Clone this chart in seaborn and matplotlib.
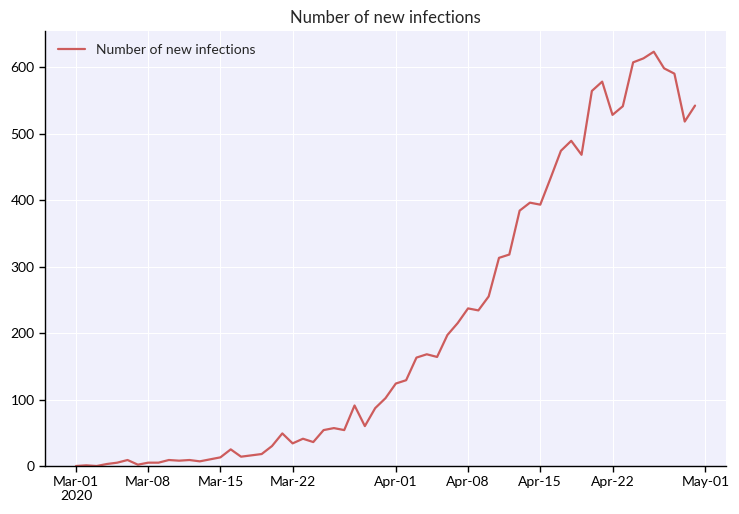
import matplotlib
matplotlib.use("Agg")
import matplotlib.pyplot as plt
import matplotlib.dates as mdates
import seaborn as sns
import pandas as pd
import numpy as np

start_date = "2020-03-01"
new_infections = [0, 1, 0, 3, 5, 9, 2, 5, 5, 9,
                  8, 9, 7, 10, 13, 25, 14, 16, 18, 30,
                  49, 34, 41, 36, 54, 57, 54, 91, 60, 87,
                  102, 124, 129, 163, 168, 164, 197, 215, 237, 234,
                  255, 313, 318, 384, 396, 393, 433, 474, 489, 468,
                  564, 578, 528, 541, 607, 613, 623, 598, 590, 518,
                  542]
tick_dates = ["2020-03-01", "2020-03-08", "2020-03-15", "2020-03-22",
              "2020-04-01", "2020-04-08", "2020-04-15", "2020-04-22", "2020-05-01"]
tick_labels = ["Mar-01\n2020", "Mar-08", "Mar-15", "Mar-22",
               "Apr-01", "Apr-08", "Apr-15", "Apr-22", "May-01"]
series_name = "Number of new infections"

df = pd.DataFrame({
    "date": pd.date_range(start_date, periods=len(new_infections), freq="D"),
    "value": new_infections,
})

sns.set_style("darkgrid", {"axes.facecolor": "#F0F0FC", "grid.color": "white"})
plt.rcParams["font.family"] = ["Lato", "DejaVu Sans"]

fig = plt.figure(figsize=(7.39, 5.14), dpi=100)
ax = fig.add_axes([45/739, 1-466/514, (726-45)/739, (466-31)/514])
sns.lineplot(data=df, x="date", y="value", ax=ax, color="#CD5C5C",
             linewidth=1.6, label=series_name)

ax.set_ylim(0, None)
ax.set_xticks(pd.to_datetime(tick_dates))
ax.set_xticklabels(tick_labels, fontsize=10)
ax.set_yticks([0, 100, 200, 300, 400, 500, 600])
ax.tick_params(axis="y", labelsize=10)
ax.tick_params(axis="both", which="major", length=4, width=1, color="black",
               bottom=True, left=True, labelcolor="black")
ax.set_xlabel("")
ax.set_ylabel("")
ax.set_title(series_name, fontsize=12)
for s in ["top", "right"]:
    ax.spines[s].set_visible(False)
for s in ["left", "bottom"]:
    ax.spines[s].set_visible(True)
    ax.spines[s].set_color("black")
    ax.spines[s].set_linewidth(1)
for lab in ax.get_xticklabels():
    lab.set_horizontalalignment("center")
ax.legend(loc="upper left", frameon=False, fontsize=10)
fig.savefig("out.png", dpi=100)
